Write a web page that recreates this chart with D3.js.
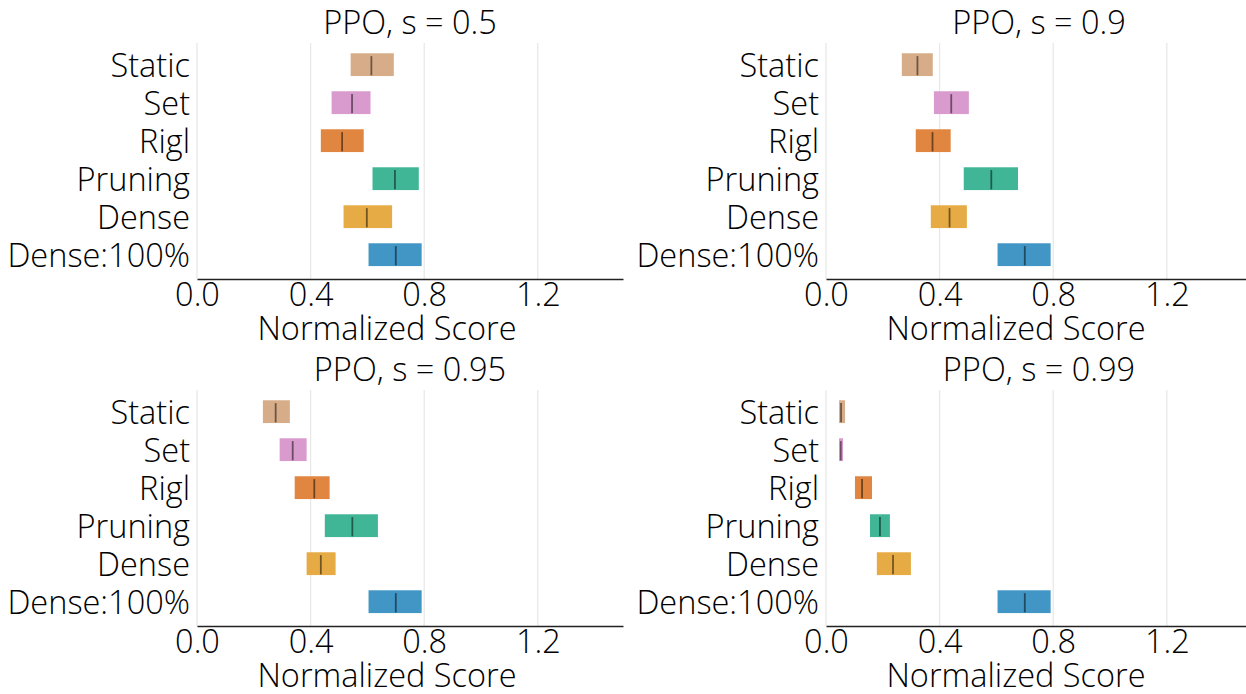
<!DOCTYPE html>
<html>
<head>
<meta charset="utf-8">
<script src="https://cdn.jsdelivr.net/npm/d3@7"></script>
<style>
  html, body { margin: 0; padding: 0; background: #fff; }
  svg { display: block; }
  text { font-family: "Open Sans", "Noto Sans", sans-serif; font-weight: 300; fill: #000; }
</style>
</head>
<body>
<svg id="chart" width="1246" height="694"></svg>
<script>
// Methods, listed top to bottom as they appear on each y axis
const methods = ["Static", "Set", "Rigl", "Pruning", "Dense", "Dense:100%"];
const methodColors = ["#ca9161", "#cc78bc", "#d55e00", "#029e73", "#de8f05", "#0173b2"];

// Panel titles (sparsity levels)
const panelTitles = ["PPO, s = 0.5", "PPO, s = 0.9", "PPO, s = 0.95", "PPO, s = 0.99"];

// Interval estimates per sparsity: lower bound, point estimate, upper bound
const low050 = [0.541, 0.474, 0.436, 0.618, 0.516, 0.604];
const mid050 = [0.614, 0.546, 0.511, 0.697, 0.598, 0.700];
const high050 = [0.693, 0.611, 0.587, 0.781, 0.687, 0.791];

const low090 = [0.267, 0.380, 0.316, 0.485, 0.369, 0.604];
const mid090 = [0.322, 0.441, 0.375, 0.582, 0.435, 0.700];
const high090 = [0.376, 0.503, 0.439, 0.676, 0.496, 0.791];

const low095 = [0.232, 0.291, 0.344, 0.450, 0.386, 0.604];
const mid095 = [0.277, 0.337, 0.413, 0.547, 0.436, 0.700];
const high095 = [0.327, 0.386, 0.467, 0.637, 0.488, 0.791];

const low099 = [0.046, 0.046, 0.102, 0.155, 0.179, 0.604];
const mid099 = [0.053, 0.052, 0.127, 0.190, 0.236, 0.700];
const high099 = [0.067, 0.060, 0.162, 0.225, 0.299, 0.791];

// X axis ticks
const xTicks = [0.0, 0.4, 0.8, 1.2];
const xTitle = "Normalized Score";

const panels = [
  { title: panelTitles[0], low: low050, mid: mid050, high: high050 },
  { title: panelTitles[1], low: low090, mid: mid090, high: high090 },
  { title: panelTitles[2], low: low095, mid: mid095, high: high095 },
  { title: panelTitles[3], low: low099, mid: mid099, high: high099 }
];

// Layout of the 2x2 grid
const plotLefts = [197, 826];
const plotTops = [43, 390];
const plotW = 426;
const plotH = 236;
const fontSize = 32.5;
const barH = 0.6; // bar height in category units
const xTitleX = 190; // x-axis label centre, from the plot's left edge

// lighten a color as if drawn with alpha over white
function overWhite(hex, a) {
  const c = d3.rgb(hex);
  return d3.rgb(c.r * a + 255 * (1 - a), c.g * a + 255 * (1 - a), c.b * a + 255 * (1 - a)).formatHex();
}

const svg = d3.select("#chart");

panels.forEach((p, i) => {
  const left = plotLefts[i % 2];
  const top = plotTops[Math.floor(i / 2)];
  const g = svg.append("g").attr("transform", `translate(${left},${top})`);

  const x = d3.scaleLinear().domain([0, 1.5]).range([0, plotW]);
  // index 0 = bottom row (Dense:100%), index 5 = top row (Static)
  const y = d3.scaleLinear().domain([-0.64, 5.57]).range([plotH, 0]);
  const rowIdx = k => methods.length - 1 - k;

  // vertical grid lines
  g.append("g").selectAll("line").data(xTicks).join("line")
    .attr("x1", d => x(d)).attr("x2", d => x(d))
    .attr("y1", 0).attr("y2", plotH)
    .attr("stroke", "#e8e8e8").attr("stroke-width", 1.3);

  // interval bars
  g.append("g").selectAll("rect").data(methods).join("rect")
    .attr("x", (d, k) => x(p.low[k]))
    .attr("width", (d, k) => x(p.high[k]) - x(p.low[k]))
    .attr("y", (d, k) => y(rowIdx(k) + barH / 2))
    .attr("height", (d, k) => y(rowIdx(k) - barH / 2) - y(rowIdx(k) + barH / 2))
    .attr("fill", (d, k) => overWhite(methodColors[k], 0.75));

  // point estimate markers
  g.append("g").selectAll("line").data(methods).join("line")
    .attr("x1", (d, k) => x(p.mid[k])).attr("x2", (d, k) => x(p.mid[k]))
    .attr("y1", (d, k) => y(rowIdx(k) + 6 * barH / 16))
    .attr("y2", (d, k) => y(rowIdx(k) - 7.5 * barH / 16))
    .attr("stroke", "#000").attr("stroke-opacity", 0.5).attr("stroke-width", 1.8);

  // x axis
  const xAxis = g.append("g").attr("transform", `translate(0,${plotH})`)
    .call(d3.axisBottom(x).tickValues(xTicks).tickFormat(d3.format(".1f")).tickSize(0).tickSizeOuter(0).tickPadding(4));
  xAxis.select(".domain").attr("stroke", "#222").attr("stroke-width", 1.5);
  xAxis.selectAll("text").attr("font-size", fontSize).attr("font-family", null).attr("fill", "#000");

  // y axis
  const yAxis = g.append("g")
    .call(d3.axisLeft(y).tickValues(d3.range(methods.length)).tickFormat(v => methods[methods.length - 1 - v]).tickSize(0).tickPadding(7));
  yAxis.select(".domain").remove();
  yAxis.selectAll("text").attr("font-size", fontSize).attr("font-family", null).attr("fill", "#000").attr("dy", "0.36em");

  // axis title
  g.append("text").attr("x", xTitleX).attr("y", plotH + 61)
    .attr("text-anchor", "middle").attr("font-size", fontSize).text(xTitle);

  // panel title
  g.append("text").attr("x", plotW / 2).attr("y", -9)
    .attr("text-anchor", "middle").attr("font-size", fontSize).text(p.title);
});
</script>
</body>
</html>
